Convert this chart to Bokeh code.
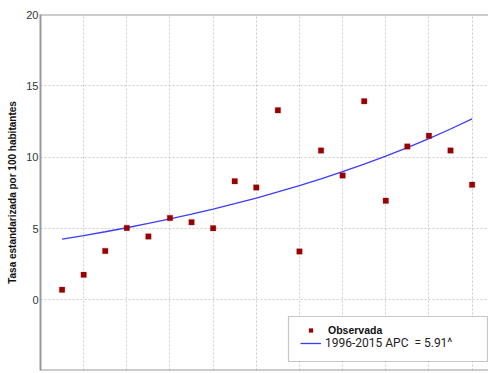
from bokeh.plotting import figure
from bokeh.models import (Range1d, FixedTicker, Span, Legend, LegendItem,
                          BoxAnnotation, ColumnDataSource)
from bokeh.embed import file_html
from bokeh.resources import INLINE

years = list(range(1996, 2016))
observed = [0.71, 1.76, 3.44, 5.05, 4.45, 5.75, 5.45, 5.03, 8.32, 7.88,
            13.29, 3.40, 10.47, 8.72, 13.92, 6.95, 10.75, 11.50, 10.47, 8.07]
fitted = [4.26, 4.51, 4.78, 5.06, 5.36, 5.68, 6.01, 6.37, 6.75, 7.14,
          7.57, 8.01, 8.49, 8.99, 9.52, 10.08, 10.68, 11.31, 11.98, 12.69]
y_ticks = [0, 5, 10, 15, 20]
x_grid_ticks = [1997, 1999, 2001, 2003, 2005, 2007, 2009, 2011, 2013, 2015]
y_label = "Tasa estandarizada por 100 habitantes"
obs_label = "Observada"
fit_label = "1996-2015 APC  = 5.91^"

src = ColumnDataSource(dict(year=years, obs=observed, fit=fitted))

p = figure(width=488, height=373, output_backend="svg", toolbar_location=None,
           x_range=Range1d(1995, 2015.76), y_range=Range1d(-4.94, 20),
           min_border_left=40, min_border_right=0, min_border_top=14,
           min_border_bottom=3)
p.outline_line_color = None
p.background_fill_color = "white"
p.border_fill_color = "white"

# axes
p.xaxis.visible = False
p.xgrid.ticker = FixedTicker(ticks=x_grid_ticks)
yax = p.yaxis[0]
yax.ticker = FixedTicker(ticks=y_ticks)
yax.axis_line_color = "#999999"
yax.axis_line_width = 2
yax.major_tick_line_color = None
yax.minor_tick_line_color = None
yax.major_tick_out = 0
yax.major_tick_in = 0
yax.minor_tick_out = 0
yax.major_label_standoff = 2
yax.major_label_text_font = "Liberation Sans"
yax.major_label_text_font_size = "11px"
yax.major_label_text_color = "#333333"
yax.axis_label = y_label
yax.axis_label_text_font = "Liberation Sans"
yax.axis_label_text_font_size = "10px"
yax.axis_label_text_font_style = "bold"
yax.axis_label_text_color = "#111111"
yax.axis_label_standoff = 5

for g in (p.xgrid[0], p.ygrid[0]):
    g.grid_line_color = "#cccccc"
    g.grid_line_dash = "2 2"
    g.grid_line_width = 1
p.ygrid.ticker = FixedTicker(ticks=[0, 5, 10, 15])

# borders
p.add_layout(Span(location=20, dimension="width", line_color="#999999", line_width=2))
p.add_layout(Span(location=-4.94, dimension="width", line_color="#999999", line_width=2))

# data
line_r = p.line("year", "fit", source=src, line_color="#3c3cff", line_width=1.3)
pts_r = p.scatter("year", "obs", source=src, marker="square", size=5.5,
                  fill_color="#990000", line_color="#a01818", line_width=0.3)

# legend box
p.add_layout(BoxAnnotation(left=248, right=447, bottom=9, top=54,
                           left_units="screen", right_units="screen",
                           top_units="screen", bottom_units="screen",
                           fill_color="white", fill_alpha=1.0,
                           line_color="#444444", line_width=1.2,
                           level="annotation"))

leg1 = Legend(items=[LegendItem(label=obs_label, renderers=[pts_r])],
              location=(260, 30), padding=0, margin=0, border_line_color=None,
              background_fill_alpha=0, glyph_width=21, glyph_height=10,
              label_standoff=7, label_height=20, label_text_font="Liberation Sans",
              label_text_font_style="bold", label_text_font_size="10.5px",
              label_text_color="#111111")
leg2 = Legend(items=[LegendItem(label=fit_label, renderers=[line_r])],
              location=(260, 17), padding=0, margin=0, border_line_color=None,
              background_fill_alpha=0, glyph_width=21, glyph_height=20,
              label_standoff=4, label_text_font="Roboto",
              label_text_font_size="12px", label_text_color="#222222")
p.add_layout(leg1)
p.add_layout(leg2)

open("out.html", "w").write(file_html(p, INLINE))
